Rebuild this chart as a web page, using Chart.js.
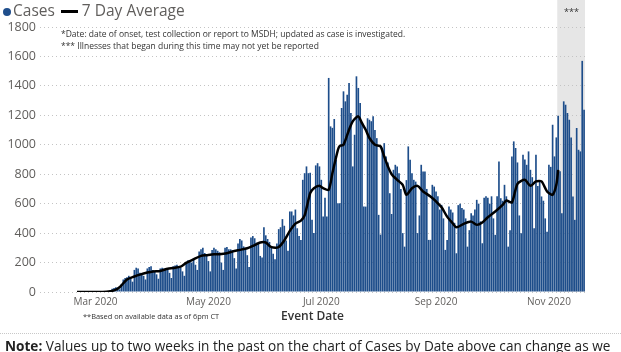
<!DOCTYPE html>
<html>
<head>
<meta charset="utf-8">
<script src="https://cdn.jsdelivr.net/npm/chart.js@4.4.0/dist/chart.umd.min.js"></script>
<style>
  html,body{margin:0;padding:0;background:#fff;}
  body{width:621px;height:352px;overflow:hidden;position:relative;font-family:'Open Sans',sans-serif;}
  #wrap{position:absolute;left:0;top:0;width:621px;height:352px;}
  .txt{position:absolute;white-space:nowrap;color:#333;}
  .dot{display:inline-block;width:8px;height:8px;border-radius:50%;background:#1f4e8c;vertical-align:middle;margin-right:2px;}
  .dash{display:inline-block;width:17px;height:3px;background:#000;vertical-align:middle;margin:0 4px 0 6px;}
  #sep{position:absolute;left:0;top:333px;width:621px;border-top:1px dotted #c8c8c8;}
</style>
</head>
<body>
<div id="wrap"><canvas id="chartCases"></canvas></div>

<div class="txt" style="left:3px;top:-1px;font-size:15.5px;color:#605e5c;"><span class="dot"></span>Cases<span class="dash"></span>7 Day Average</div>
<div class="txt" style="left:61px;top:28px;font-size:8.5px;">*Date: date of onset, test collection or report to MSDH; updated as case is investigated.</div>
<div class="txt" style="left:61px;top:40px;font-size:8.5px;">*** Illnesses that began during this time may not yet be reported</div>
<div class="txt" style="left:564px;top:5px;font-size:9px;">***</div>
<div class="txt" style="left:83px;top:311px;font-size:7.4px;">**Based on available data as of 6pm CT</div>
<div id="sep"></div>
<div class="txt" style="left:5px;top:336px;font-size:13.6px;color:#222;"><b>Note:</b> Values up to two weeks in the past on the chart of Cases by Date above can change as we</div>

<script>
// --- Date ---
const startDate = '2020-02-20';   // prima zi din cases[]
const axisStart = '2020-01-31';
const pendingStart = '2020-11-06'; // zona gri ***

const monthTicks = ['2020-03-01','2020-05-01','2020-07-01','2020-09-01','2020-11-01'];
const monthLabels = ['Mar 2020','May 2020','Jul 2020','Sep 2020','Nov 2020'];

// cazuri zilnice, Feb 20 -> Nov 20
const cases = [
  0,0,0,0,0,0,0,
  0,0,0,0,0,1,0,
  1,0,0,3,12,22,28,
  32,25,18,55,85,95,100,
  110,95,70,150,165,160,130,
  120,110,85,160,170,175,150,
  140,120,90,160,165,160,150,
  150,130,95,175,180,185,170,
  165,140,110,205,215,210,200,
  230,185,150,275,290,300,265,
  250,210,140,285,300,290,280,
  270,200,150,300,305,290,290,
  285,230,160,330,360,350,310,
  300,250,170,370,380,365,335,
  330,245,235,440,385,360,340,
  300,260,222,330,427,440,495,
  450,350,280,547,547,520,560,
  433,380,354,762,807,853,807,
  810,490,400,860,875,853,762,
  512,640,512,1454,1125,1115,1175,
  900,603,603,1250,1363,1295,1340,
  1420,1216,853,1068,1465,1386,1284,
  1150,580,580,1180,1170,1160,1193,
  1100,1045,524,390,980,1011,920,
  880,671,530,830,864,853,807,
  700,400,308,760,989,898,807,
  762,750,400,520,864,818,818,
  700,354,354,728,716,683,650,
  560,592,500,286,354,580,560,
  540,470,263,590,600,570,560,
  500,308,420,535,520,560,626,
  600,480,331,640,650,640,600,
  650,500,388,650,887,637,620,
  728,650,308,420,921,1023,978,
  880,520,399,932,900,864,955,
  830,780,433,932,720,760,649,
  620,500,410,864,850,1136,921,
  1050,1197,820,535,1295,1272,1216,
  1170,1050,649,490,1114,966,955,
  1570,1238
];

// media pe 7 zile (zile de la startDate)
const avgDays = [0,10,16,20,23,27,31,34,38,41,45,49,52,56,59,63,67,70,74,77,
  81,85,88,92,95,99,102,104,106,109,112,115,118,121,123,126,128,131,133,136,
  138,141,142,144,147,149,152,154,156,158,161,164,166,168,170,173,176,178,181,184,
  187,191,194,197,200,203,205,209,213,216,219,222,226,230,232,235,238,242,245,248,
  251,254,257,259,260];
const avgValues = [0,0,2,11,32,85,105,118,132,140,143,158,163,172,198,222,245,250,256,256,
  263,279,286,297,313,336,336,313,302,306,350,415,465,485,520,671,705,721,705,694,
  807,966,993,1000,1102,1159,1193,1147,1102,1046,1000,989,920,853,800,762,728,660,705,721,
  683,649,615,575,512,467,440,463,478,456,472,508,547,592,621,608,735,762,721,751,
  751,683,660,728,830];

function dayIndex(s){
  const a = s.split('-').map(Number), b = startDate.split('-').map(Number);
  return Math.round((Date.UTC(a[0],a[1]-1,a[2]) - Date.UTC(b[0],b[1]-1,b[2]))/86400000);
}

// zona gri in spatele graficului
const pendingShade = {
  id:'pendingShade',
  beforeDraw(chart){
    const {ctx, chartArea, scales} = chart;
    const x0 = scales.x.getPixelForValue(dayIndex(pendingStart)-0.5);
    ctx.save();
    ctx.fillStyle = '#e6e6e6';
    ctx.fillRect(x0, 0, chartArea.right - x0, chartArea.bottom);
    ctx.restore();
  }
};

Chart.defaults.font.family = "'Open Sans', sans-serif";

const ctx = document.getElementById('chartCases').getContext('2d');
new Chart(ctx, {
  type:'bar',
  data:{
    datasets:[
      {
        type:'line', label:'7 Day Average', order:0,
        data: avgDays.map((d,i)=>({x:d, y:avgValues[i]})),
        borderColor:'#000', borderWidth:2.5, pointRadius:0, tension:0.25, fill:false
      },
      {
        type:'bar', label:'Cases', order:1,
        data: cases.map((v,i)=>({x:i, y:v})),
        backgroundColor:'#1d4d8a', barPercentage:0.9, categoryPercentage:1
      }
    ]
  },
  options:{
    responsive:true, maintainAspectRatio:false, animation:false,
    devicePixelRatio:1,
    layout:{padding:{left:0, right:36, top:27, bottom:24}},
    plugins:{legend:{display:false}, tooltip:{enabled:false}},
    scales:{
      x:{
        type:'linear', offset:false,
        min: dayIndex(axisStart), max: cases.length-0.5,
        grid:{display:false, drawTicks:false}, border:{display:false},
        afterBuildTicks: s => { s.ticks = monthTicks.map(t=>({value:dayIndex(t)})); },
        afterFit: s => { s.height = 36; },
        ticks:{autoSkip:false, maxRotation:0, padding:4, color:'#605e5c', font:{size:10},
          callback:(v,i)=>monthLabels[i]},
        title:{display:true, text:'Event Date', color:'#333', font:{size:12, weight:'600'}}
      },
      y:{
        min:0, max:1800,
        afterFit: s => { s.width = 40; },
        ticks:{stepSize:200, padding:4, color:'#605e5c', font:{size:12.5}, callback:v=>String(v)},
        grid:{color:'#c4c4c4', drawTicks:false},
        border:{display:false, dash:[1,3]}
      }
    }
  },
  plugins:[pendingShade]
});
</script>
</body>
</html>
